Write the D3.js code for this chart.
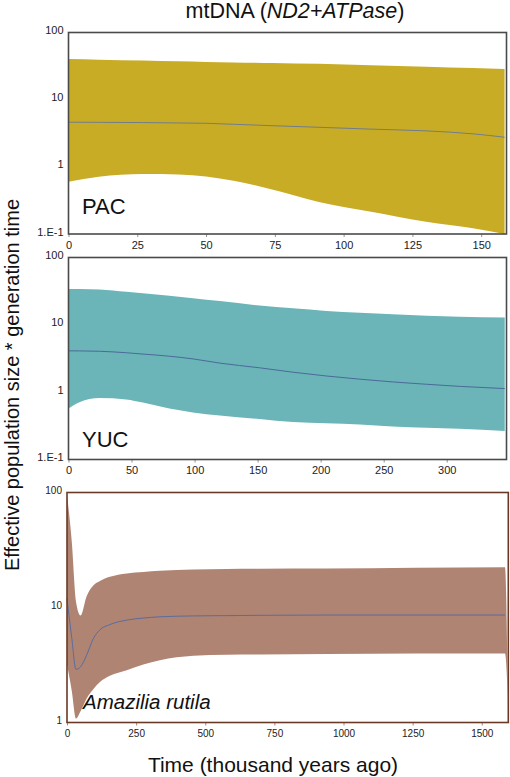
<!DOCTYPE html>
<html>
<head>
<meta charset="utf-8">
<script src="https://cdn.jsdelivr.net/npm/d3@7"></script>
<style>
  html, body { margin: 0; padding: 0; background: #fff; }
  svg { display: block; font-family: "Liberation Sans", Arial, sans-serif; }
</style>
</head>
<body>
<svg id="chart" width="510" height="777"></svg>
<script>
// ---------- DATA ----------
// PAC (time in thousand years ago)
const pacTime   = [0, 11, 27, 40, 50, 60, 74, 91, 110, 130, 147, 158.5];
const pacUpper  = [40.2, 39.3, 38.2, 37.2, 36.5, 35.9, 35.2, 34.2, 32.6, 31, 29.6, 28.5];
const pacMedian = [4.62, 4.6, 4.56, 4.5, 4.45, 4.3, 4.1, 3.88, 3.64, 3.43, 3.1, 2.76];
const pacLower  = [0.60, 0.71, 0.78, 0.77, 0.72, 0.62, 0.46, 0.30, 0.215, 0.152, 0.122, 0.10];

// YUC
const yucTime   = [0, 8.7, 24.6, 45.8, 59, 80, 98.7, 120, 151.6, 178, 204.5, 231, 257, 284, 310, 346];
const yucUpper  = [34.2, 34, 33.5, 31, 29.5, 27, 24.8, 22.5, 19.3, 17.6, 16.1, 15.1, 14.3, 13.7, 13.2, 12.8];
const yucMedian = [4.11, 4.1, 4.05, 3.85, 3.68, 3.42, 3.12, 2.7, 2.3, 1.98, 1.74, 1.56, 1.42, 1.31, 1.22, 1.13];
const yucLower  = [0.57, 0.71, 0.82, 0.78, 0.70, 0.57, 0.50, 0.45, 0.40, 0.36, 0.345, 0.33, 0.31, 0.296, 0.285, 0.264];

// Amazilia rutila
const amaTime   = [0, 17, 32.5, 49, 71, 95, 119, 155, 216, 276, 336, 457, 578, 698, 939, 1584, 1596];
const amaUpper  = [95, 38, 11.2, 8.5, 12.5, 15.5, 17, 18.5, 19.8, 20.4, 20.9, 21.4, 21.6, 21.7, 21.8, 22.4, 1.3];
const amaMedian = [12, 5.5, 2.9, 3.05, 3.85, 5.35, 6.4, 7.1, 7.77, 8.1, 8.3, 8.45, 8.5, 8.55, 8.6, 8.6, null];
const amaLower  = [3.2, 1.9, 1.08, 1.25, 1.62, 1.95, 2.25, 2.55, 2.85, 3.2, 3.48, 3.8, 3.88, 3.9, 3.95, 3.98, 1.3];

// Tick labels
const ticksPAC  = [0, 25, 50, 75, 100, 125, 150];
const ticksYUC  = [0, 50, 100, 150, 200, 250, 300];
const ticksAMA  = [0, 250, 500, 750, 1000, 1250, 1500];
const yTicks3   = [100, 10, 1, 0.1];
const yTickLabels3 = ["100", "10", "1", "1.E-1"];
const yTicks2   = [100, 10, 1];
const yTickLabels2 = ["100", "10", "1"];

const titleParts = [["mtDNA (", false], ["ND2+ATPase", true], [")", false]];
const yLabel = "Effective population size * generation time";
const xLabel = "Time (thousand years ago)";

// ---------- DRAW ----------
const svg = d3.select("#chart");

function panel(cfg) {
  const x = d3.scaleLinear().domain(cfg.xDomain).range([cfg.left, cfg.right]);
  const y = d3.scaleLog().domain(cfg.yDomain).range([cfg.bottom, cfg.top]);
  const g = svg.append("g");

  const idx = d3.range(cfg.time.length);
  const area = d3.area()
    .x(i => x(cfg.time[i]))
    .y0(i => y(cfg.lower[i]))
    .y1(i => y(cfg.upper[i]))
    .curve(d3.curveMonotoneX);
  g.append("path").attr("d", area(idx)).attr("fill", cfg.fill);

  const line = d3.line()
    .defined(i => cfg.median[i] != null)
    .x(i => x(cfg.time[i]))
    .y(i => y(cfg.median[i]))
    .curve(d3.curveMonotoneX);
  g.append("path").attr("d", line(idx)).attr("fill", "none")
    .attr("stroke", cfg.lineColor).attr("stroke-width", 1);

  // frame
  g.append("rect")
    .attr("x", cfg.left).attr("y", cfg.top)
    .attr("width", cfg.right - cfg.left).attr("height", cfg.bottom - cfg.top)
    .attr("fill", "none").attr("stroke", cfg.frame).attr("stroke-width", 1.6);

  // x axis
  const xa = d3.axisBottom(x).tickValues(cfg.xTicks).tickSize(3).tickPadding(4)
    .tickFormat(d3.format("d"));
  const xg = g.append("g").attr("transform", `translate(0,${cfg.bottom})`).call(xa);
  xg.select(".domain").remove();
  xg.selectAll("line").attr("stroke", cfg.frame).attr("stroke-width", 0.6);
  xg.selectAll("text").attr("font-size", cfg.tickFont).attr("fill", "#222")
    .attr("font-family", "Liberation Sans, Arial, sans-serif");

  // y axis
  const ya = d3.axisLeft(y).tickValues(cfg.yTicks).tickSize(0).tickPadding(5)
    .tickFormat((d, i) => cfg.yTickLabels[i]);
  const yg = g.append("g").attr("transform", `translate(${cfg.left},0)`).call(ya);
  yg.select(".domain").remove();
  yg.selectAll("text").attr("font-size", cfg.tickFont).attr("fill", "#222")
    .attr("dy", "0.1em")
    .attr("font-family", "Liberation Sans, Arial, sans-serif");

  // panel label
  g.append("text").attr("x", cfg.labelX).attr("y", cfg.labelY)
    .attr("font-size", cfg.labelSize).attr("font-style", cfg.labelItalic ? "italic" : "normal")
    .attr("fill", "#111").text(cfg.label);
}

panel({
  time: pacTime, upper: pacUpper, median: pacMedian, lower: pacLower,
  xDomain: [0, 159.2], yDomain: [0.1, 100],
  left: 68.5, right: 506.5, top: 32.5, bottom: 234,
  xTicks: ticksPAC, yTicks: yTicks3, yTickLabels: yTickLabels3,
  fill: "#c9ac26", lineColor: "#6f7d8c", frame: "#4a4a4a", tickFont: 11,
  label: "PAC", labelX: 82, labelY: 214, labelSize: 22
});

panel({
  time: yucTime, upper: yucUpper, median: yucMedian, lower: yucLower,
  xDomain: [0, 347.4], yDomain: [0.1, 100],
  left: 68.5, right: 506.5, top: 257.5, bottom: 459.5,
  xTicks: ticksYUC, yTicks: yTicks3, yTickLabels: yTickLabels3,
  fill: "#6bb4b7", lineColor: "#4a6a9a", frame: "#4a4a4a", tickFont: 11,
  label: "YUC", labelX: 82, labelY: 447, labelSize: 22
});

panel({
  time: amaTime, upper: amaUpper, median: amaMedian, lower: amaLower,
  xDomain: [0, 1596], yDomain: [1, 100],
  left: 67, right: 508.3, top: 492.5, bottom: 722.5,
  xTicks: ticksAMA, yTicks: yTicks2, yTickLabels: yTickLabels2,
  fill: "#b08473", lineColor: "#5a6c9c", frame: "#6b3a26", tickFont: 10,
  label: "Amazilia rutila", labelItalic: true, labelX: 83, labelY: 709, labelSize: 20.5
});

// title
const title = svg.append("text").attr("x", 295).attr("y", 18)
  .attr("text-anchor", "middle").attr("font-size", 21.5).attr("fill", "#111");
titleParts.forEach(p => title.append("tspan").attr("font-style", p[1] ? "italic" : "normal").text(p[0]));

// y label
svg.append("text")
  .attr("transform", "translate(19,385) rotate(-90)")
  .attr("text-anchor", "middle").attr("font-size", 20).attr("fill", "#111")
  .text(yLabel);

// x label
svg.append("text").attr("x", 273).attr("y", 772)
  .attr("text-anchor", "middle").attr("font-size", 21).attr("fill", "#111")
  .text(xLabel);
</script>
</body>
</html>
